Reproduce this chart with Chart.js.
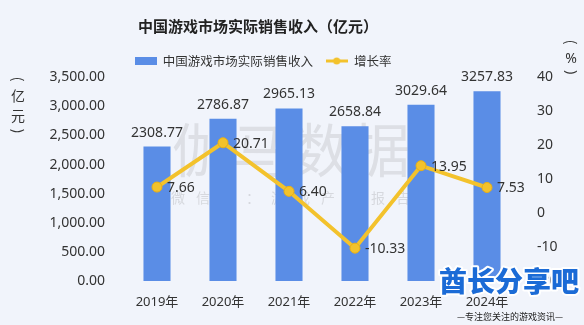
<!DOCTYPE html>
<html>
<head>
<meta charset="utf-8">
<script src="https://cdn.jsdelivr.net/npm/chart.js@4.4.1/dist/chart.umd.min.js"></script>
<style>
  html, body { margin: 0; padding: 0; background: #f1f4fb; }
  #contenedor { width: 584px; height: 325px; }
</style>
</head>
<body>
<div id="contenedor"><canvas id="graficoIngresos" width="584" height="325"></canvas></div>
<script>
// Datos: ingresos reales del mercado de juegos en China y su crecimiento
const anios = ["2019年", "2020年", "2021年", "2022年", "2023年", "2024年"];
const ingresos = [2308.77, 2786.87, 2965.13, 2658.84, 3029.64, 3257.83];
const crecimiento = [7.66, 20.71, 6.40, -10.33, 13.95, 7.53];
const ticksIngresos = [0, 500, 1000, 1500, 2000, 2500, 3000, 3500];
const ticksCrecimiento = [-20, -10, 0, 10, 20, 30, 40];

const FUENTE = "'Noto Sans', 'Noto Sans CJK SC', sans-serif";
const FUENTE_CJK = "'Noto Sans CJK SC', 'Noto Sans', sans-serif";
const AZUL = "#5a8de6";
const AMARILLO = "#f3c22c";

Chart.defaults.font.family = FUENTE;
Chart.defaults.color = "#333";

// iconos de la leyenda (barra y linea con punto)
function iconoBarra() {
  const c = document.createElement("canvas");
  c.width = 22; c.height = 8;
  const g = c.getContext("2d");
  g.fillStyle = AZUL;
  g.fillRect(0, 0, 22, 8);
  return c;
}
function iconoLinea() {
  const c = document.createElement("canvas");
  c.width = 22; c.height = 10;
  const g = c.getContext("2d");
  g.strokeStyle = AMARILLO;
  g.lineWidth = 3;
  g.beginPath(); g.moveTo(0, 5); g.lineTo(22, 5); g.stroke();
  g.fillStyle = AMARILLO;
  g.beginPath(); g.arc(11, 5, 3.5, 0, Math.PI * 2); g.fill();
  return c;
}

// fondo del canvas
const fondo = {
  id: "fondo",
  beforeDraw(chart) {
    const ctx = chart.ctx;
    ctx.save();
    ctx.fillStyle = "#f1f4fb";
    ctx.fillRect(0, 0, chart.width, chart.height);
    ctx.restore();
  }
};

// mover titulo y leyenda un poco a la izquierda
const desplazarCabecera = {
  id: "desplazarCabecera",
  afterLayout(chart) {
    chart.legend.left -= 29;
    chart.legend.right -= 29;
    chart.titleBlock.left -= 34;
    chart.titleBlock.right -= 34;
  }
};

// marca de agua del fondo
const marcaAgua = {
  id: "marcaAgua",
  beforeDatasetsDraw(chart) {
    const ctx = chart.ctx;
    ctx.save();
    ctx.fillStyle = "rgba(120,120,120,0.16)";
    ctx.textAlign = "center";
    ctx.textBaseline = "middle";
    ctx.font = "58px " + FUENTE_CJK;
    const grande = "伽马数据";
    for (let i = 0; i < grande.length; i++) {
      ctx.fillText(grande[i], 201 + i * 60, 150);
    }
    ctx.fillStyle = "rgba(120,120,120,0.22)";
    ctx.font = "14px " + FUENTE_CJK;
    const chico = "微信号：游戏产业报告";
    for (let i = 0; i < chico.length; i++) {
      ctx.fillText(chico[i], 178 + i * 25, 198);
    }
    ctx.restore();
  }
};

// valores encima de barras y junto a los puntos
const etiquetasValores = {
  id: "etiquetasValores",
  afterDatasetsDraw(chart) {
    const ctx = chart.ctx;
    ctx.save();
    ctx.font = "14px " + FUENTE;
    ctx.fillStyle = "#333";
    ctx.textAlign = "center";
    ctx.textBaseline = "bottom";
    chart.getDatasetMeta(0).data.forEach((el, i) => {
      ctx.fillText(ingresos[i].toFixed(2), el.x, el.y - 7);
    });
    ctx.textAlign = "left";
    ctx.textBaseline = "middle";
    chart.getDatasetMeta(1).data.forEach((el, i) => {
      ctx.fillText(crecimiento[i].toFixed(2), el.x + 10, el.y + 1);
    });
    ctx.restore();
  }
};

// titulos verticales de los ejes y logo
function parentesis(ctx, ch, x, y) {
  ctx.save();
  ctx.translate(x, y);
  ctx.rotate(Math.PI / 2);
  ctx.fillText(ch, 0, 0);
  ctx.restore();
}
const extras = {
  id: "extras",
  afterDraw(chart) {
    const ctx = chart.ctx;
    ctx.save();
    ctx.fillStyle = "#333";
    ctx.textAlign = "center";
    ctx.textBaseline = "middle";
    ctx.font = "14px " + FUENTE_CJK;
    parentesis(ctx, "(", 18, 79);
    ctx.fillText("亿", 18, 96);
    ctx.fillText("元", 18, 116);
    parentesis(ctx, ")", 18, 131);
    parentesis(ctx, "(", 571, 42);
    ctx.font = "14px " + FUENTE;
    ctx.fillText("%", 571, 59);
    parentesis(ctx, ")", 571, 72);

    ctx.font = "900 28px " + FUENTE_CJK;
    ctx.lineJoin = "round";
    ctx.strokeStyle = "#ffffff";
    ctx.lineWidth = 4;
    ctx.strokeText("酋长分享吧", 509, 281);
    ctx.fillStyle = "#1b6bd6";
    ctx.fillText("酋长分享吧", 509, 281);
    ctx.font = "9px " + FUENTE_CJK;
    ctx.fillStyle = "#222";
    ctx.fillText("—专注您关注的游戏资讯—", 510, 317);
    ctx.restore();
  }
};

const ctx = document.getElementById("graficoIngresos");
new Chart(ctx, {
  data: {
    labels: anios,
    datasets: [
      {
        type: "bar",
        label: "中国游戏市场实际销售收入",
        data: ingresos,
        backgroundColor: AZUL,
        yAxisID: "y",
        order: 2,
        categoryPercentage: 1,
        barPercentage: 0.41
      },
      {
        type: "line",
        label: "增长率",
        data: crecimiento,
        borderColor: AMARILLO,
        borderWidth: 4,
        pointRadius: 5,
        pointBackgroundColor: AMARILLO,
        pointBorderColor: "#e9b015",
        pointBorderWidth: 1,
        tension: 0,
        yAxisID: "y2",
        order: 1
      }
    ]
  },
  options: {
    responsive: false,
    devicePixelRatio: 1,
    animation: false,
    layout: { padding: 0 },
    scales: {
      x: {
        grid: { display: false, drawTicks: false },
        border: { display: false },
        ticks: { font: { size: 13 }, color: "#333", padding: 13 },
        afterFit(s) { s.height = 44; }
      },
      y: {
        position: "left",
        min: 0,
        max: 3500,
        grid: { display: false, drawTicks: false },
        border: { display: false },
        afterBuildTicks(s) { s.ticks = ticksIngresos.map(v => ({ value: v })); },
        ticks: {
          font: { size: 14 },
          color: "#333",
          padding: 19,
          callback: v => v.toLocaleString("en-US", { minimumFractionDigits: 2, maximumFractionDigits: 2 })
        },
        afterFit(s) { s.width = 124; }
      },
      y2: {
        position: "right",
        min: -20,
        max: 40,
        grid: { display: false, drawTicks: false },
        border: { display: false },
        afterBuildTicks(s) { s.ticks = ticksCrecimiento.map(v => ({ value: v })); },
        ticks: { font: { size: 14 }, color: "#333", padding: 17 },
        afterFit(s) { s.width = 64; }
      }
    },
    plugins: {
      title: {
        display: true,
        text: "中国游戏市场实际销售收入（亿元）",
        font: { size: 15, weight: "bold", family: FUENTE_CJK },
        color: "#222",
        padding: { top: 17, bottom: 7 }
      },
      legend: {
        position: "top",
        labels: {
          usePointStyle: true,
          pointStyleWidth: 22,
          font: { size: 12.5, family: FUENTE_CJK },
          color: "#333",
          padding: 12.75,
          generateLabels: chart => chart.data.datasets.map((ds, i) => ({
            text: ds.label,
            datasetIndex: i,
            pointStyle: i === 0 ? iconoBarra() : iconoLinea(),
            fillStyle: i === 0 ? AZUL : AMARILLO,
            strokeStyle: "transparent",
            lineWidth: 0,
            hidden: false,
            fontColor: "#333"
          }))
        }
      },
      tooltip: { enabled: false }
    }
  },
  plugins: [fondo, desplazarCabecera, marcaAgua, etiquetasValores, extras]
});
</script>
</body>
</html>
